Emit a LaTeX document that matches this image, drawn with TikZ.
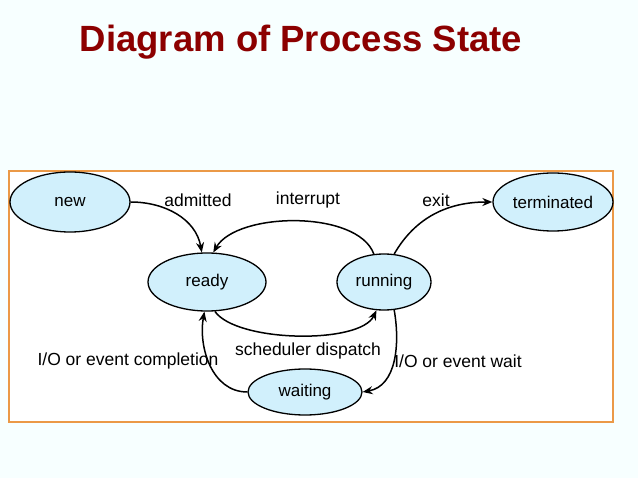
\documentclass[tikz,border=0pt]{standalone}
\usepackage{fontspec}
\setmainfont{Liberation Sans}
\usetikzlibrary{shapes.geometric,arrows.meta}
\begin{document}
\begin{tikzpicture}[x=1pt,y=-1pt,
  st/.style={ellipse,draw=black,line width=1.3pt,fill=cyan!18,inner sep=0pt,font=\fontsize{17}{19}\selectfont},
  lbl/.style={font=\fontsize{17.5}{19}\selectfont,inner sep=0pt},
  ar/.style={-{Stealth[length=10pt,width=8pt]},line width=1.5pt}]
\fill[blue!4!cyan!3] (0,0) rectangle (638,478);
\useasboundingbox (0,0) rectangle (638,478);
\draw[fill=white,draw=orange!60!brown!80,line width=2.5pt] (9,171) rectangle (613,422);
\node[font=\bfseries\fontsize{36.5}{40}\selectfont,text=red!55!black] (title) at (301,42) {Diagram of Process State};
\node[st,minimum width=120pt,minimum height=60pt] (new) at (70,202) {new};
\node[st,minimum width=118pt,minimum height=58pt] (ready) at (207,282) {ready};
\node[st,minimum width=94pt,minimum height=56pt] (running) at (384,282) {running};
\node[st,minimum width=120pt,minimum height=58pt] (term) at (553,202) {terminated};
\node[st,minimum width=114pt,minimum height=46pt] (wait) at (305,392) {waiting};
\draw[ar] (new.east) to[out=0,in=100] (ready.100);
\draw[ar] (running.110) to[out=110,in=60,looseness=0.75] (ready.78);
\draw[ar] (ready.-75) to[out=-55,in=-115,looseness=0.6] (running.-105);
\draw[ar] (running.70) to[out=60,in=180] (term.west);
\draw[ar] (running.-70) to[out=-80,in=10] (wait.east);
\draw[ar] (wait.west) to[out=180,in=-100] (ready.-95);
\node[lbl] (l1) at (198,200) {admitted};
\node[lbl] (l2) at (308,200) {interrupt};
\node[lbl] (l3) at (436,200) {exit};
\node[lbl] (l4) at (308,351) {scheduler dispatch};
\node[lbl] (l5) at (128,361) {I/O or event completion};
\node[lbl] (l6) at (458,361) {I/O or event wait};
\end{tikzpicture}
\end{document}
